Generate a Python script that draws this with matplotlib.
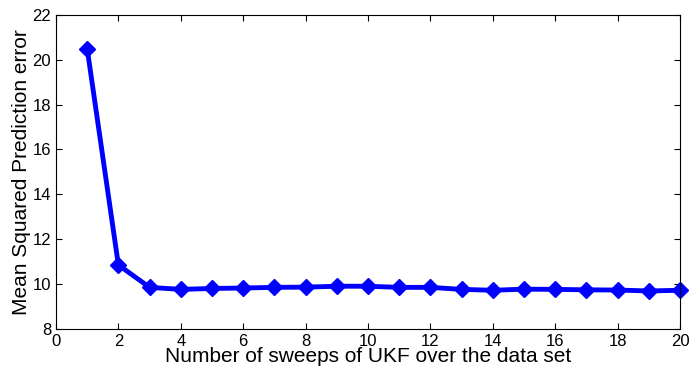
import matplotlib.pyplot as plt

# number of UKF sweeps and the resulting MSE
sweeps = list(range(1, 21))
mse = [20.5, 10.85, 9.85, 9.76, 9.8, 9.82, 9.85, 9.86, 9.9, 9.9,
       9.85, 9.85, 9.76, 9.72, 9.77, 9.76, 9.74, 9.73, 9.69, 9.72]

plt.rcParams['font.family'] = ['Liberation Sans', 'DejaVu Sans']

fig = plt.figure(figsize=(6.91, 3.72), dpi=100)
ax = fig.add_axes([0.081, 0.116, 0.903, 0.844])

ax.plot(sweeps, mse, color='#0000ff', linewidth=3.5, marker='D',
        markersize=8.5, clip_on=False)

ax.set_xlim(0, 20)
ax.set_ylim(8, 22)
ax.set_xticks(range(0, 21, 2))
ax.set_yticks(range(8, 23, 2))
ax.tick_params(direction='in', top=True, right=True, labelsize=12, length=4)
for s in ax.spines.values():
    s.set_linewidth(0.8)

ax.set_xlabel('Number of sweeps of UKF over the data set', fontsize=15, labelpad=-1)
ax.set_ylabel('Mean Squared Prediction error', fontsize=15, labelpad=1)

fig.savefig('out.png', dpi=100)
